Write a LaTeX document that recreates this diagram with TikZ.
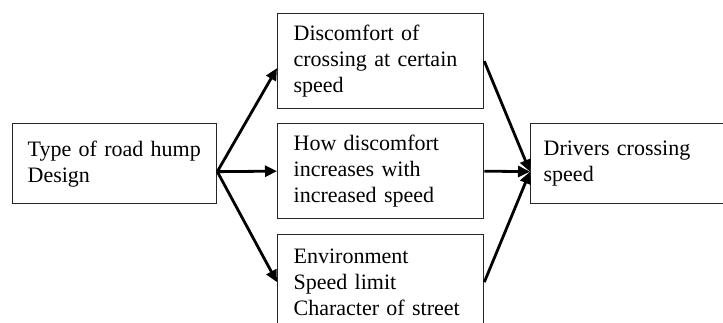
\documentclass[tikz,border=0pt]{standalone}
\usepackage{fontspec}
\setmainfont{Liberation Serif}
\usetikzlibrary{arrows.meta}
\begin{document}
\begin{tikzpicture}[x=1pt,y=-1pt,
  box/.style={draw=black!85, line width=1.3pt, anchor=north west, align=left,
    inner ysep=0pt, font=\fontsize{22}{26}\selectfont},
  conn/.style={line width=2.8pt, -{Triangle[length=12pt,width=11pt]}}]
\useasboundingbox (0,0) rectangle (723,322);
\clip (0,0) rectangle (723,322);
\node[box, inner xsep=15pt, text width=174pt, minimum height=80pt] (lb) at (12,123)
  {Type of road hump\\Design};
\node[box, inner xsep=16pt, text width=174pt, minimum height=95pt] (tb) at (277,13)
  {Discomfort of\\crossing at certain\\speed};
\node[box, inner xsep=16pt, text width=174pt, minimum height=95pt] (mb) at (277,123)
  {How discomfort\\increases with\\increased speed};
\node[box, inner xsep=16pt, text width=174pt, minimum height=95pt] (bb) at (277,234)
  {Environment\\Speed limit\\Character of street};
\node[box, inner xsep=13pt, text width=200pt, minimum height=80pt] (rb) at (530,123)
  {Drivers crossing\\speed};
\coordinate (ls) at ([yshift=-8pt]lb.east);
\coordinate (rt) at ([yshift=-8pt]rb.west);
\draw[conn] (ls) -- ([yshift=-7pt]tb.west);
\draw[conn] (ls) -- (mb.west);
\draw[conn] (ls) -- (bb.west);
\draw[conn] (tb.east) -- (rt);
\draw[conn] (mb.east) -- (rt);
\draw[conn] (bb.east) -- (rt);
\end{tikzpicture}
\end{document}
